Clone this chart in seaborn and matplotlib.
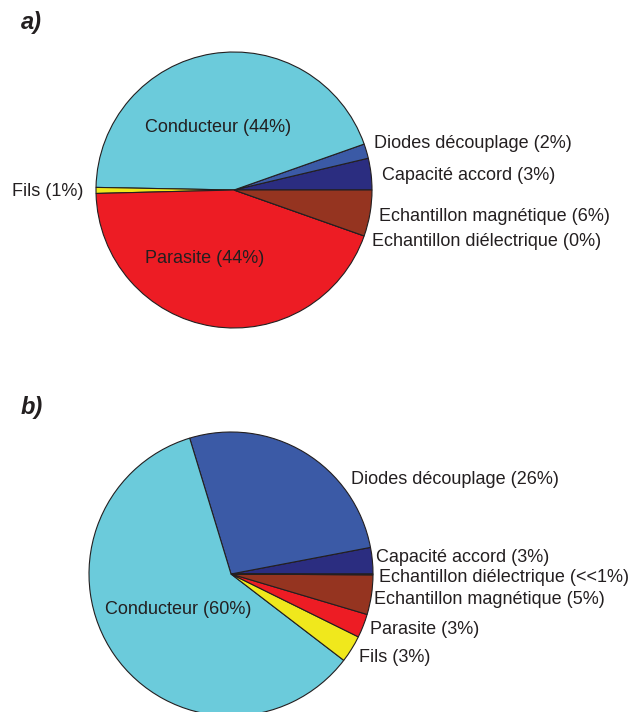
import numpy as np
import matplotlib
matplotlib.use("Agg")
import matplotlib.pyplot as plt
import seaborn as sns

sns.set_style("white")
plt.rcParams['font.family'] = ['Liberation Sans', 'DejaVu Sans']

# --- données ---
# a) : ordre trigonométrique à partir de 0°
labels_a = ["Capacité accord (3%)", "Diodes découplage (2%)", "Conducteur (44%)",
            "Fils (1%)", "Parasite (44%)", "Echantillon diélectrique (0%)",
            "Echantillon magnétique (6%)"]
values_a = [3.7, 1.7, 44.3, 0.7, 44.2, 0.0, 5.4]

# b)
labels_b = ["Capacité accord (3%)", "Diodes découplage (26%)", "Conducteur (60%)",
            "Fils (3%)", "Parasite (3%)", "Echantillon magnétique (5%)",
            "Echantillon diélectrique (<<1%)"]
values_b = [3.0, 26.7, 59.9, 3.1, 2.7, 4.5, 0.1]

couleurs = {
    "Capacité": "#2b2d80",
    "Diodes": "#3b5aa6",
    "Conducteur": "#6bcbdb",
    "Fils": "#f0e81c",
    "Parasite": "#ed1c24",
    "Echantillon magnétique": "#953420",
    "Echantillon diélectrique": "#7a2a18",
}

# position des étiquettes (pixels, bord gauche / centre vertical)
pos_a = [(382, 175), (374, 143), (145, 127), (12, 191), (145, 258), (372, 242), (379, 216)]
pos_b = [(376, 557), (351, 479), (105, 610), (359, 657), (370, 629), (374, 600), (379, 577)]

W, H = 633, 712
fig = plt.figure(figsize=(W / 100, H / 100), dpi=100)


def couleur(lab):
    for k, c in couleurs.items():
        if lab.startswith(k):
            return c
    return "grey"


def camembert(top, bottom, cx, cy, r, labels, values, pos, titre, ty):
    ax = fig.add_axes([0, 1 - bottom / H, 1, (bottom - top) / H])
    ax.pie(values, colors=[couleur(l) for l in labels], startangle=0,
           counterclock=True, radius=1,
           wedgeprops=dict(edgecolor="#231f20", linewidth=0.8))
    ax.set_aspect("auto")
    ax.set_xlim(-cx / r, (W - cx) / r)
    ax.set_ylim((cy - bottom) / r, (cy - top) / r)
    ax.axis("off")
    for lab, (x, y) in zip(labels, pos):
        fig.text(x / W, 1 - y / H, lab, ha="left", va="center",
                 fontsize=13, color="#231f20")
    fig.text(21 / W, 1 - ty / H, titre, ha="left", va="center",
             fontsize=17, fontweight="bold", style="italic", color="#231f20")


camembert(0, 356, 234, 190, 138, labels_a, values_a, pos_a, "a)", 22)
camembert(356, 712, 231, 574, 142, labels_b, values_b, pos_b, "b)", 408)

fig.savefig("out.png", dpi=100)
